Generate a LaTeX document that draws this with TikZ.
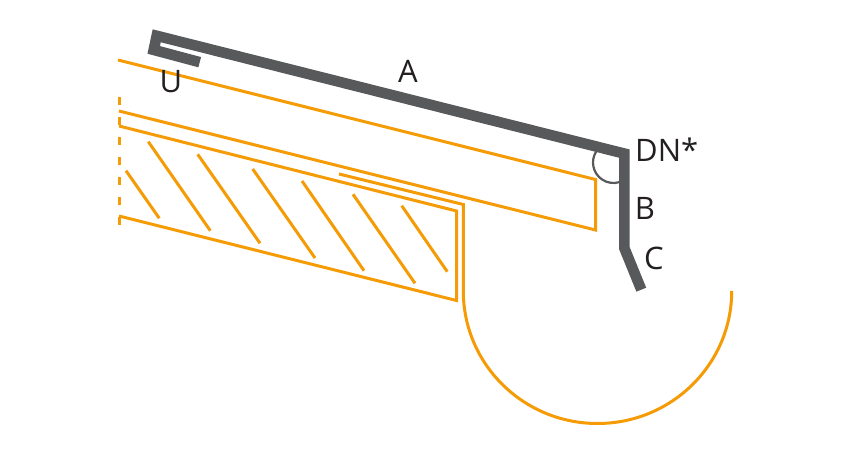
\documentclass[tikz,border=0pt]{standalone}
\usepackage{fontspec}
\setmainfont{Open Sans}
\definecolor{myorange}{RGB}{245,155,5}
\definecolor{mygray}{RGB}{88,89,91}
\definecolor{myink}{RGB}{35,31,32}
\usetikzlibrary{calc}

\begin{document}
\begin{tikzpicture}[
  x=1pt,
  y=1pt,
  outline/.style={draw=myorange, line width=3pt, miter limit=10},
  hatchline/.style={draw=myorange, line width=3pt},
  flashing/.style={draw=mygray, line width=10.6pt, miter limit=10},
  mylabel/.style={text=myink, inner sep=0pt, font=\fontsize{31}{31}\selectfont}
]
\useasboundingbox (0,0) rectangle (850,454);

% deck and fascia
\draw[outline] (118,394) -- (595.5,274.5) -- (595.5,224) -- (119,343);
\draw[outline] (119,328) -- (456.5,243) -- (456.5,153.5) -- (119,238);
\draw[outline, line width=2.4pt, dash pattern=on 8.5pt off 11.5pt] (119.3,357) -- (119.3,229);

% gutter
\draw[outline] (339,280) -- (463.3,249.5) -- (463.3,163) arc [start angle=180, end angle=360, x radius=134.2, y radius=132.5];

% hatching
\foreach \xa/\ya/\xb/\yb in {126/170.7/159.3/218.3, 148.3/141.7/210.3/230.7, 197.7/154.3/260/243.3, 252.7/169/315/258, 302/181/364/270.7, 353/194.3/415/283.3, 401.7/205.7/447.3/271.7}
  \draw[hatchline] (\xa,454-\ya) -- (\xb,454-\yb);

% angle mark
\draw[mygray, line width=2.2pt] (613.5,291.5) ++(147:20.5) arc (147:287:20.5);

% drip edge
\draw[flashing] (199.7,391.8) -- (153.7,404.1) -- (156.7,418.2) -- (624.3,300.4) -- (624.3,206) -- (641.3,164.3);

\node[mylabel] (labelA) at (408,383) {A};
\node[mylabel] (labelU) at (171,372) {U};
\node[mylabel, anchor=west] (labelDN) at (635,304) {DN*};
\node[mylabel] (labelB) at (645,246) {B};
\node[mylabel] (labelC) at (654,196) {C};

\end{tikzpicture}
\end{document}
